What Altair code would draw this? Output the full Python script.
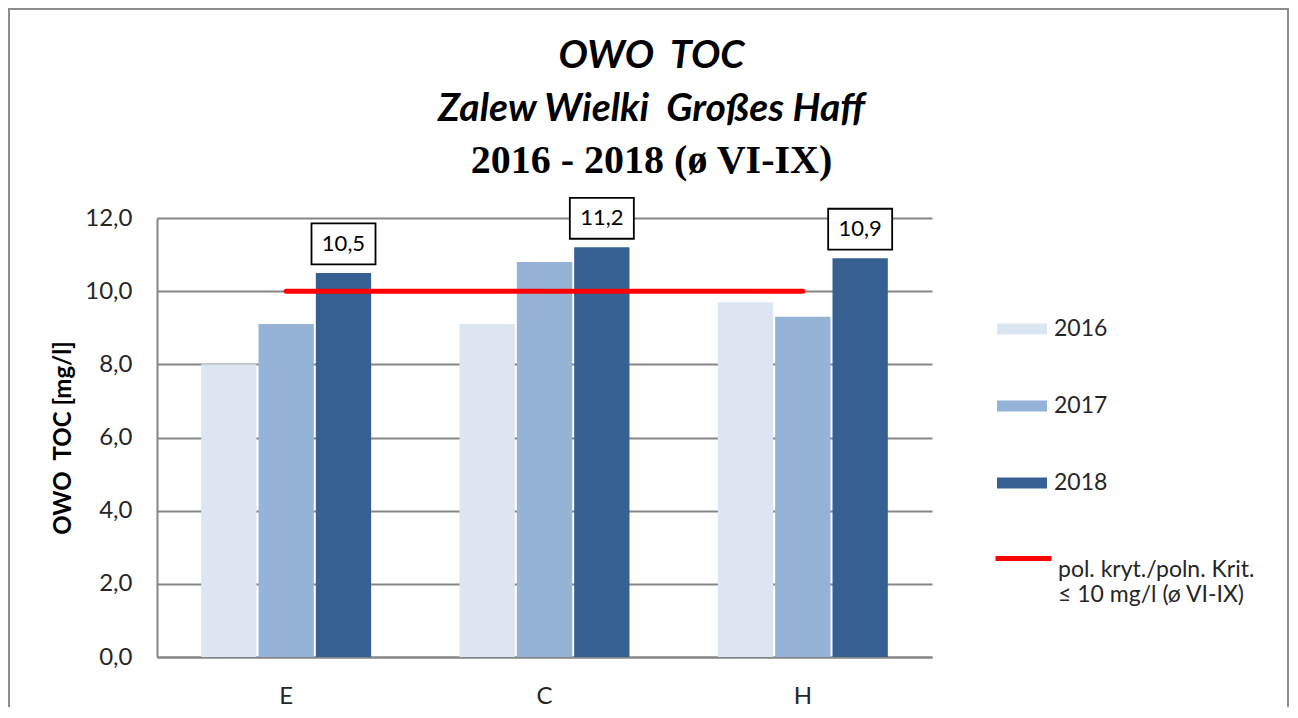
import altair as alt
import pandas as pd

sites = ["E", "C", "H"]
years = ["2016", "2017", "2018"]
v2016 = [8.0, 9.1, 9.7]
v2017 = [9.1, 10.8, 9.3]
v2018 = [10.5, 11.2, 10.9]
year_colors = ["#DCE6F2", "#95B3D7", "#376092"]

limit_sites = ["E", "H"]
limit_values = [10.0, 10.0]
limit_label = "pol. kryt./poln. Krit.|≤ 10 mg/l (ø VI-IX)"

y_ticks = [0, 2, 4, 6, 8, 10, 12]

title_lines = ["OWO \u00a0TOC", "Zalew Wielki \u00a0Großes Haff"]
subtitle_line = "2016 - 2018 (ø VI-IX)"
y_title = "OWO \u00a0TOC [mg/l]"

rows = []
for yr, vals in zip(years, [v2016, v2017, v2018]):
    for s, v in zip(sites, vals):
        rows.append({"site": s, "year": yr, "value": v})
df = pd.DataFrame(rows)
df_lim = pd.DataFrame({"site": limit_sites, "value": limit_values, "lab": [limit_label] * len(limit_sites)})

FONT = "Lato"
GRID = "#868686"
fmt = "replace(format(datum.value, '.1f'), '.', ',')"

x_enc = alt.X("site:N", sort=sites,
              scale=alt.Scale(domain=sites, paddingInner=0.342, paddingOuter=0.171),
              axis=alt.Axis(title=None, labelFontSize=24, labelFont=FONT, labelColor="#262626",
                            labelPadding=27, ticks=False, tickSize=0, domainColor=GRID, domainWidth=2,
                            labelAngle=0, grid=False))
xo = alt.XOffset("year:N", scale=alt.Scale(domain=years, paddingInner=0.035))
y_scale = alt.Scale(domain=[0, 12], nice=False, zero=True)
y_enc = alt.Y("value:Q", scale=y_scale,
              axis=alt.Axis(values=y_ticks, labelExpr=fmt, title=y_title,
                            titleFontSize=24, titleFont=FONT, titleFontWeight="bold",
                            titleColor="black", titlePadding=9,
                            labelFontSize=24, labelFont=FONT, labelColor="#262626", labelPadding=25,
                            ticks=False, tickSize=0, gridColor=GRID, gridWidth=2,
                            domainColor=GRID, domainWidth=2))

bars = alt.Chart(df).mark_bar().encode(
    x=x_enc, xOffset=xo, y=y_enc,
    color=alt.Color("year:N", scale=alt.Scale(domain=years, range=year_colors),
                    legend=alt.Legend(title=None, orient="none", legendX=840, legendY=86,
                                      symbolType="M-1,-0.22H1V0.22H-1Z", symbolSize=2500,
                                      symbolStrokeWidth=0, symbolOpacity=1,
                                      labelFontSize=23, labelFont=FONT, labelColor="#262626",
                                      labelOffset=7, rowPadding=40, padding=0))
)

limit = alt.Chart(df_lim).mark_line(strokeWidth=5, strokeCap="round").encode(
    x=x_enc, y=y_enc,
    stroke=alt.Stroke("lab:N", scale=alt.Scale(range=["#FF0000"]),
                      legend=alt.Legend(title=None, orient="none", legendX=836, legendY=310,
                                        symbolType="stroke", symbolSize=3136, symbolStrokeWidth=5,
                                        labelFontSize=23, labelFont=FONT, labelColor="#262626",
                                        labelExpr="split(datum.label, '|')", labelBaseline="top",
                                        labelLimit=400, labelOffset=4, padding=0))
)

top = alt.Chart(df).transform_filter("datum.year == '2018'").transform_calculate(
    label=fmt
)
boxes = top.mark_point(shape="M-1,-0.64H1V0.64H-1Z", size=4096, filled=True, fill="white",
                       stroke="black", strokeWidth=1.8, opacity=1, yOffset=-29).encode(
    x=x_enc, xOffset=xo, y=y_enc)
labels = top.mark_text(fontSize=22, font=FONT, color="black", baseline="middle",
                       yOffset=-29).encode(
    x=x_enc, xOffset=xo, y=y_enc, text="label:N")

frame = alt.Chart(alt.Data(values=[{}])).mark_rect(
    filled=False, stroke="#8C8C8C", strokeWidth=2, fillOpacity=0).encode(
    x=alt.value(-148), x2=alt.value(1131), y=alt.value(-209), y2=alt.value(540))

chart = alt.layer(bars, limit, boxes, labels, frame).properties(
    width=775, height=439,
    autosize=alt.AutoSizeParams(type="none"),
    padding={"left": 149, "top": 210, "right": 358, "bottom": 50},
    title=alt.TitleParams(
        text=title_lines,
        subtitle=subtitle_line,
        font=FONT, fontSize=39, fontStyle="italic", fontWeight="bold", color="black",
        lineHeight=53,
        subtitleFont="Liberation Serif", subtitleFontSize=40, subtitleFontWeight="bold",
        subtitleColor="black", subtitlePadding=12,
        anchor="middle", dx=107, offset=-173,
    ),
).configure_view(stroke=None)

chart.save("out.html", embed_options={"renderer": "svg", "actions": False})
